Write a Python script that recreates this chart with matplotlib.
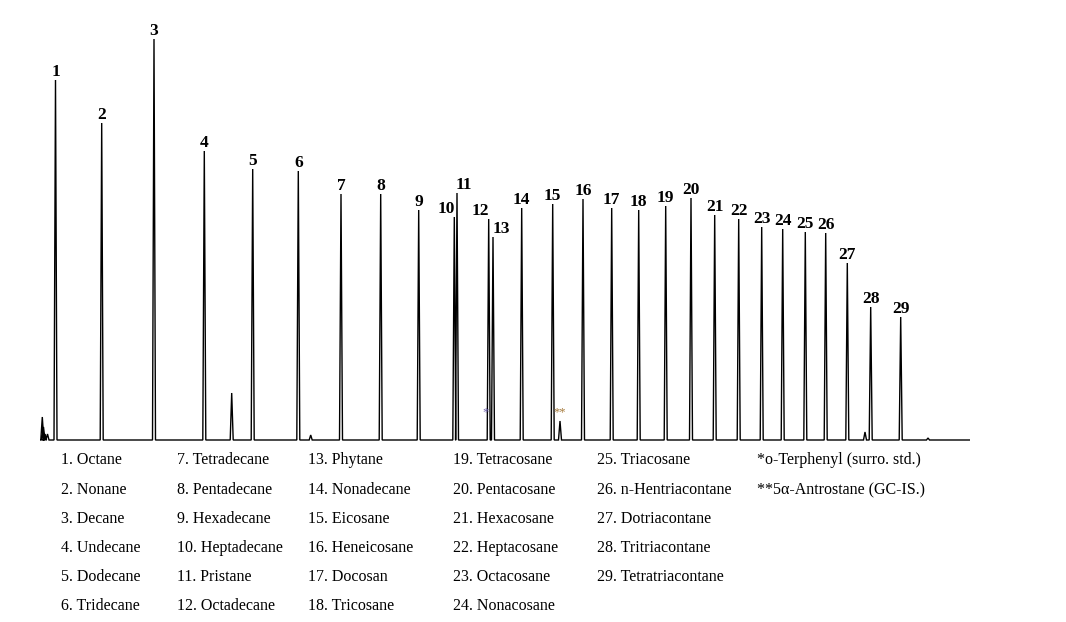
import numpy as np
import matplotlib.pyplot as plt

# peak retention positions (chart units) and heights above baseline
peak_rt = [15.5, 61.7, 114.0, 164.3, 212.7, 258.3, 301.0, 340.7, 378.7, 414.3,
           417.0, 448.7, 453.0, 481.7, 512.7, 543.0, 571.7, 598.7, 625.7, 651.0,
           674.7, 698.7, 721.7, 742.7, 765.3, 785.7, 807.3, 830.7, 860.7]
peak_h = [360, 317, 401, 289, 271, 269, 246, 246, 230, 223,
          247, 221, 203, 232, 236, 241, 232, 230, 234, 242,
          225, 221, 213, 211, 208, 207, 177, 133, 123]
peak_no = [str(i) for i in range(1, 30)]

# small unlabelled peaks (solvent front, impurities, internal standard)
minor_rt = [2.3, 3.5, 5.0, 7.5, 191.7, 270.7, 520.0, 825.0, 888.0]
minor_h = [23, 13, 6, 6, 47, 5, 19, 8, 2]

compounds = ["Octane", "Nonane", "Decane", "Undecane", "Dodecane", "Tridecane",
             "Tetradecane", "Pentadecane", "Hexadecane", "Heptadecane", "Pristane",
             "Octadecane", "Phytane", "Nonadecane", "Eicosane", "Heneicosane",
             "Docosan", "Tricosane", "Tetracosane", "Pentacosane", "Hexacosane",
             "Heptacosane", "Octacosane", "Nonacosane", "Triacosane",
             "n-Hentriacontane", "Dotriacontane", "Tritriacontane", "Tetratriacontane"]
notes = ["*o-Terphenyl (surro. std.)", "**5\u03b1-Antrostane (GC-IS.)"]

# label nudges (points) for the crowded pairs 10/11 and 12/13
label_dx = {"10": -6, "11": 5, "12": -6, "13": 6}

# build the trace: each peak is a narrow triangle on a flat baseline
rts = np.array(peak_rt + minor_rt)
hs = np.array(peak_h + minor_h)
order = np.argsort(rts)
xs, ys = [0.0], [0.0]
for r, h in zip(rts[order], hs[order]):
    xs += [r - 1.5, r, r + 1.5]
    ys += [0.0, h, 0.0]
xs.append(930.0)
ys.append(0.0)

fig = plt.figure(figsize=(10.66, 6.22), dpi=100)
ax = fig.add_axes([40 / 1066, (622 - 450) / 622, 930 / 1066, 450 / 622])
ax.plot(xs, ys, color="black", lw=1.0, solid_joinstyle="miter")
ax.set_xlim(0, 930)
ax.set_ylim(-10, 440)
ax.axis("off")

for r, h, lab in zip(peak_rt, peak_h, peak_no):
    ax.annotate(lab, (r, h), xytext=(label_dx.get(lab, 0), 3), textcoords="offset points",
                ha="center", va="baseline", fontsize=12.5, fontweight="bold",
                family="Liberation Serif")

# markers for surrogate and internal standard
ax.annotate("*", (peak_rt[11], 22), xytext=(-2, 0), textcoords="offset points",
            ha="center", va="bottom", fontsize=9, color="#6b5fa8", family="Liberation Serif")
ax.annotate("**", (minor_rt[6], 22), xytext=(0, 0), textcoords="offset points",
            ha="center", va="bottom", fontsize=9, color="#a57a3c", family="Liberation Serif")

# compound key under the chromatogram
col_x = [61, 177, 308, 453, 597, 757]
row_y = [460, 490, 519, 548, 577, 606]
for i, name in enumerate(compounds):
    c, rr = divmod(i, 6)
    fig.text(col_x[c] / 1066, 1 - row_y[rr] / 622, f"{i + 1}. {name}",
             ha="left", va="center", fontsize=11.5, family="Liberation Serif")
for rr, note in enumerate(notes):
    fig.text(col_x[5] / 1066, 1 - row_y[rr] / 622, note,
             ha="left", va="center", fontsize=11.5, family="Liberation Serif")

fig.savefig("out.png", dpi=100)
